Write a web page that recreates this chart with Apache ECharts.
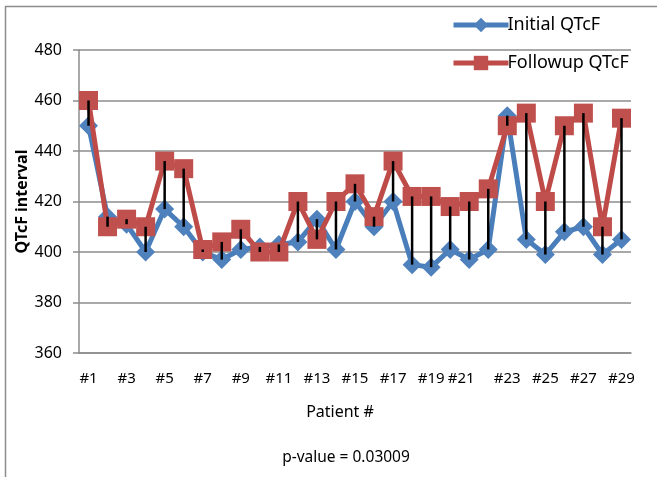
<!DOCTYPE html>
<html>
<head>
<meta charset="utf-8">
<script src="https://cdn.jsdelivr.net/npm/echarts@6/dist/echarts.min.js"></script>
<style>
html,body{margin:0;padding:0;background:#fff;}
#chart{width:657px;height:477px;}
</style>
</head>
<body>
<div id="chart"></div>
<script>
const categories = ['#1','#2','#3','#4','#5','#6','#7','#8','#9','#10','#11','#12','#13','#14','#15','#16','#17','#18','#19','#20','#21','#22','#23','#24','#25','#26','#27','#28','#29'];
const initialQTcF = [450,414,411,400,417,410,400,397,401,402,403,404,413,401,420,410,420,395,394,401,397,401,454,405,399,408,410,399,405];
const followupQTcF = [460,410,413,410,436,433,401,404,409,400,400,420,405,420,427,414,436,422,422,418,420,425,450,455,420,450,455,410,453];
const yTicks = {min:360, max:480, interval:20};

const FONT = 'Noto Sans';
const chart = echarts.init(document.getElementById('chart'), null, {renderer:'canvas'});

const hiLo = categories.map((c,i)=>[i, Math.min(initialQTcF[i],followupQTcF[i]), Math.max(initialQTcF[i],followupQTcF[i])]);

chart.setOption({
  backgroundColor:'#fff',
  animation:false,
  textStyle:{fontFamily:FONT},
  graphic:[{
    type:'rect', silent:true, z:-10,
    shape:{x:5.5, y:6.5, width:700, height:520},
    style:{fill:'none', stroke:'#8c8c8c', lineWidth:1.5}
  }],
  title:{
    text:'p-value = 0.03009',
    left:341, top:445, textAlign:'center',
    textStyle:{fontFamily:FONT, fontSize:15.5, fontWeight:'normal', color:'#000'}
  },
  legend:{
    orient:'vertical',
    left:446, top:11,
    itemGap:20,
    itemWidth:55, itemHeight:18,
    data:[
      {name:'Initial QTcF', lineStyle:{width:5, color:'#4A7EBB'}, itemStyle:{color:'#4F81BD'}},
      {name:'Followup QTcF', lineStyle:{width:5, color:'#BE4B48'}, itemStyle:{color:'#C0504D'}}
    ],
    textStyle:{fontFamily:FONT, fontSize:18, color:'#000', padding:[0,0,0,-6]}
  },
  grid:{left:79, right:26, top:50, bottom:124},
  xAxis:{
    type:'category',
    data:categories,
    boundaryGap:true,
    name:'Patient #',
    nameLocation:'middle',
    nameGap:51,
    nameMoveOverlap:false,
    nameTextStyle:{fontFamily:FONT, fontSize:16, color:'#000', padding:[0,30,0,0]},
    axisLine:{lineStyle:{color:'#8c8c8c', width:1.5}},
    axisTick:{show:false},
    axisLabel:{
      interval:1, margin:18, color:'#000', fontFamily:FONT, fontSize:15,
      formatter:function(v){ return v==='#21' ? '{s|'+v+'}' : v; },
      rich:{s:{fontFamily:FONT, fontSize:15, color:'#000', padding:[0,16,0,0]}}
    },
    splitLine:{show:false}
  },
  yAxis:{
    type:'value',
    min:yTicks.min, max:yTicks.max, interval:yTicks.interval,
    name:'QTcF interval',
    nameLocation:'middle',
    nameGap:49,
    nameMoveOverlap:false,
    nameTextStyle:{fontFamily:FONT, fontSize:16, fontWeight:'bold', color:'#000'},
    axisLine:{show:true, lineStyle:{color:'#8c8c8c', width:1.5}},
    axisTick:{show:true, length:6, lineStyle:{color:'#8c8c8c', width:1.5}},
    axisLabel:{margin:17, color:'#000', fontFamily:FONT, fontSize:16},
    splitLine:{lineStyle:{color:'#8c8c8c', width:1.5}}
  },
  series:[
    {
      name:'Initial QTcF', type:'line', data:initialQTcF,
      symbol:'diamond', symbolSize:19, showAllSymbol:true,
      lineStyle:{color:'#4A7EBB', width:5},
      itemStyle:{color:'#4F81BD', borderWidth:0},
      z:2
    },
    {
      name:'Followup QTcF', type:'line', data:followupQTcF,
      symbol:'rect', symbolSize:19, showAllSymbol:true,
      lineStyle:{color:'#BE4B48', width:5},
      itemStyle:{color:'#C0504D', borderWidth:0},
      z:3
    },
    {
      name:'hilo', type:'custom', data:hiLo, z:5, silent:true,
      encode:{x:0, y:[1,2]},
      renderItem:function(params, api){
        const p1 = api.coord([api.value(0), api.value(1)]);
        const p2 = api.coord([api.value(0), api.value(2)]);
        return {type:'line', shape:{x1:p1[0], y1:p1[1], x2:p2[0], y2:p2[1]}, style:{stroke:'#000', lineWidth:2.5}};
      }
    }
  ]
});
</script>
</body>
</html>
